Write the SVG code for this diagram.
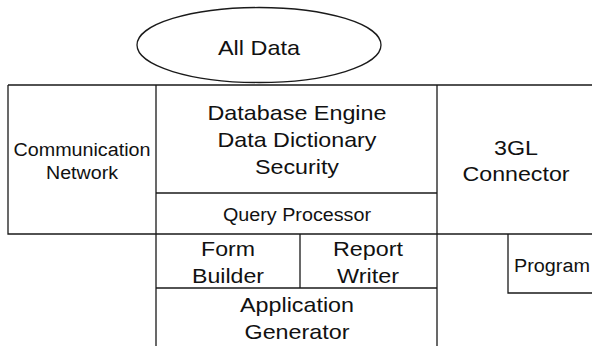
<svg xmlns="http://www.w3.org/2000/svg" width="592" height="346" viewBox="0 0 592 346">
<style>
.ln{stroke:#1a1a1a;stroke-width:1.3;fill:none}
.big{font-family:"Liberation Sans",Arial,sans-serif;font-size:21px;fill:#111;text-anchor:middle}
.sm{font-family:"Liberation Sans",Arial,sans-serif;font-size:18px;fill:#111;text-anchor:middle}
</style>
<rect width="592" height="346" fill="#fff"/>
<g id="all-data">
<ellipse class="ln" cx="259" cy="45" rx="122" ry="37.5"/>
<text class="big" x="259" y="55" textLength="82" lengthAdjust="spacingAndGlyphs">All Data</text>
</g>
<g id="communication-network">
<path class="ln" d="M8 85V234H156"/>
<text class="sm" x="82" y="156" textLength="137" lengthAdjust="spacingAndGlyphs">Communication</text>
<text class="sm" x="82" y="179" textLength="72" lengthAdjust="spacingAndGlyphs">Network</text>
</g>
<g id="database-engine">
<path class="ln" d="M8 85H592M156 85V346M437 85V346"/>
<text class="big" x="297" y="120" textLength="179" lengthAdjust="spacingAndGlyphs">Database Engine</text>
<text class="big" x="297" y="147" textLength="159" lengthAdjust="spacingAndGlyphs">Data Dictionary</text>
<text class="big" x="297" y="174" textLength="84" lengthAdjust="spacingAndGlyphs">Security</text>
</g>
<g id="query-processor">
<path class="ln" d="M156 193H437"/>
<text class="sm" x="297" y="221" textLength="148" lengthAdjust="spacingAndGlyphs">Query Processor</text>
</g>
<g id="three-gl-connector">
<path class="ln" d="M437 234H592"/>
<text class="big" x="516" y="155" textLength="44" lengthAdjust="spacingAndGlyphs">3GL</text>
<text class="big" x="516" y="181" textLength="107" lengthAdjust="spacingAndGlyphs">Connector</text>
</g>
<g id="form-builder">
<path class="ln" d="M156 234H437M300 234V288"/>
<text class="big" x="228" y="256" textLength="54" lengthAdjust="spacingAndGlyphs">Form</text>
<text class="big" x="228" y="283" textLength="72" lengthAdjust="spacingAndGlyphs">Builder</text>
</g>
<g id="report-writer">
<text class="big" x="368" y="256" textLength="70" lengthAdjust="spacingAndGlyphs">Report</text>
<text class="big" x="368" y="283" textLength="62" lengthAdjust="spacingAndGlyphs">Writer</text>
</g>
<g id="application-generator">
<path class="ln" d="M156 288H437"/>
<text class="big" x="297" y="312" textLength="114" lengthAdjust="spacingAndGlyphs">Application</text>
<text class="big" x="297" y="339" textLength="105" lengthAdjust="spacingAndGlyphs">Generator</text>
</g>
<g id="program">
<path class="ln" d="M508 234V293H592"/>
<text class="sm" x="514" y="272" text-anchor="start" style="text-anchor:start" textLength="76" lengthAdjust="spacingAndGlyphs">Program</text>
</g>
<g id="connectors"/>
</svg>
